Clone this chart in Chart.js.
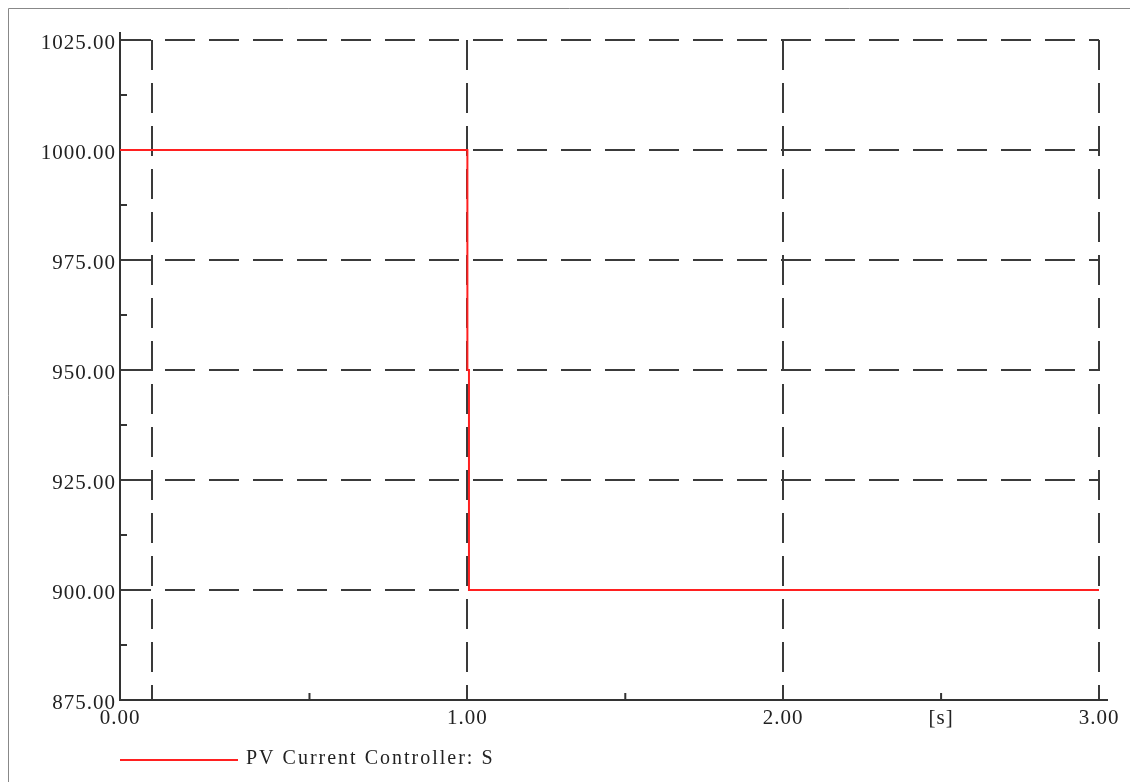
<!DOCTYPE html>
<meta charset="utf-8">
<style>
html, body {
  margin: 0;
  background: #fff;
}
canvas {
  display: block;
}
</style>
<body>
<canvas id="chart" width="1130" height="782"></canvas>
<script src="https://cdn.jsdelivr.net/npm/chart.js@4/dist/chart.umd.min.js"></script>
<script>
"use strict";

// simulation trace
var timeS = [-0.1, 1.0, 1.0, 1.005, 1.005, 3.0];
var controllerS = [1000, 1000, 950, 950, 900, 900];
var seriesName = "PV Current Controller: S";

var xTickValues = [-0.1, 0, 0.5, 1, 1.5, 2, 2.5, 3];
var xTickLabels = ["0.00", "", "", "1.00", "", "2.00", "[s]", "3.00"];
var xGridValues = [0, 1, 2, 3];
var xMinorValues = [0.5, 1.5, 2.5];

var yTickValues = [875, 887.5, 900, 912.5, 925, 937.5, 950, 962.5, 975, 987.5, 1000, 1012.5, 1025];
var yGridValues = [900, 925, 950, 975, 1000, 1025];
var yMinorValues = [887.5, 912.5, 937.5, 962.5, 987.5, 1012.5];

var FONT = "'Liberation Serif', 'Times New Roman', serif";
var INK = "#333";

function gridColor(list) {
  return function (ctx) {
    return ctx.tick && list.indexOf(ctx.tick.value) >= 0 ? "#3a3a3a" : "rgba(0,0,0,0)";
  };
}

var decor = {
  id: "decor",
  beforeDraw: function (chart) {
    var c = chart.ctx;
    c.save();
    c.fillStyle = "#fff";
    c.fillRect(0, 0, chart.width, chart.height);
    // outer frame, left and top only
    c.strokeStyle = "#888";
    c.lineWidth = 1;
    c.beginPath();
    c.moveTo(8.5, chart.height);
    c.lineTo(8.5, 8.5);
    c.lineTo(chart.width, 8.5);
    c.stroke();
    c.restore();
    // the plot's lettering is spaced out a little
    c.letterSpacing = "1px";
  },
  afterDraw: function (chart) {
    var c = chart.ctx, a = chart.chartArea;
    var xs = chart.scales.x, ys = chart.scales.y;
    c.save();
    c.strokeStyle = INK;
    c.lineWidth = 2;
    c.beginPath();
    // axis overshoot
    c.moveTo(a.left, a.top);
    c.lineTo(a.left, a.top - 8);
    c.moveTo(a.right, a.bottom);
    c.lineTo(a.right + 9, a.bottom);
    // minor ticks, pointing inward
    xMinorValues.forEach(function (v) {
      var px = xs.getPixelForValue(v);
      c.moveTo(px, a.bottom);
      c.lineTo(px, a.bottom - 7);
    });
    yMinorValues.forEach(function (v) {
      var py = ys.getPixelForValue(v);
      c.moveTo(a.left, py);
      c.lineTo(a.left + 7, py);
    });
    c.stroke();

    // legend
    var ds = chart.data.datasets[0];
    c.strokeStyle = ds.borderColor;
    c.lineWidth = 2;
    c.beginPath();
    c.moveTo(a.left, 760);
    c.lineTo(a.left + 118, 760);
    c.stroke();
    c.fillStyle = "#222";
    c.font = "20px " + FONT;
    c.letterSpacing = "2px";
    c.textBaseline = "middle";
    c.fillText(ds.label, a.left + 126, 759);
    c.restore();
  }
};

new Chart(document.getElementById("chart"), {
  type: "scatter",
  data: {
    datasets: [{
      label: seriesName,
      data: timeS.map(function (t, i) { return { x: t, y: controllerS[i] }; }),
      showLine: true,
      borderColor: "#ff2020",
      borderWidth: 2,
      pointRadius: 0,
      tension: 0
    }]
  },
  options: {
    responsive: false,
    animation: false,
    layout: { padding: { left: 8, top: 40, right: 31, bottom: 0 } },
    plugins: {
      legend: { display: false },
      tooltip: { enabled: false }
    },
    scales: {
      x: {
        type: "linear",
        min: -0.1,
        max: 3.0,
        afterBuildTicks: function (scale) {
          scale.ticks = xTickValues.map(function (v) { return { value: v }; });
        },
        afterFit: function (scale) { scale.height = 82; },
        ticks: {
          autoSkip: false,
          maxRotation: 0,
          padding: 6,
          color: "#222",
          font: { family: FONT, size: 21 },
          callback: function (v) {
            var i = xTickValues.indexOf(v);
            return i >= 0 ? xTickLabels[i] : "";
          }
        },
        grid: {
          drawTicks: false,
          lineWidth: 2,
          color: gridColor(xGridValues)
        },
        border: { display: true, color: INK, width: 2, dash: [30, 13] }
      },
      y: {
        type: "linear",
        min: 875,
        max: 1025,
        afterBuildTicks: function (scale) {
          scale.ticks = yTickValues.map(function (v) { return { value: v }; });
        },
        afterFit: function (scale) { scale.width = 112; },
        ticks: {
          autoSkip: false,
          padding: 4,
          labelOffset: 3,
          color: "#222",
          font: { family: FONT, size: 21 },
          callback: function (v) {
            return yGridValues.indexOf(v) >= 0 || v === 875 ? v.toFixed(2) : "";
          }
        },
        grid: {
          drawTicks: false,
          lineWidth: 2,
          color: gridColor(yGridValues)
        },
        border: { display: true, color: INK, width: 2, dash: [30, 14] }
      }
    }
  },
  plugins: [decor]
});
</script>
</body>
